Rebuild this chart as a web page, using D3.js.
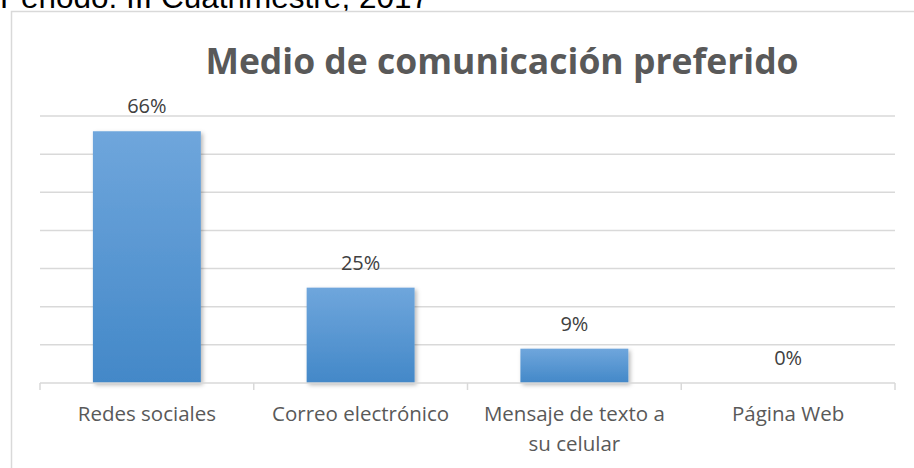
<!DOCTYPE html>
<html>
<head>
<meta charset="utf-8">
<script src="https://cdn.jsdelivr.net/npm/d3@7"></script>
<style>
  html, body { margin: 0; padding: 0; background: #fff; }
  svg { display: block; }
</style>
</head>
<body>
<svg id="chart" width="914" height="468"></svg>
<script>
// Data
const categories = ["Redes sociales", "Correo electrónico", "Mensaje de texto a su celular", "Página Web"];
const categoryLines = [["Redes sociales"], ["Correo electrónico"], ["Mensaje de texto a", "su celular"], ["Página Web"]];
const values = [0.66, 0.25, 0.09, 0.00];
const valueLabels = ["66%", "25%", "9%", "0%"];
const gridTicks = [0.1, 0.2, 0.3, 0.4, 0.5, 0.6, 0.7];
const chartTitle = "Medio de comunicación preferido";
const headerText = "Periodo: III Cuatrimestre, 2017";

const svg = d3.select("#chart");
const font = "'Open Sans', 'Noto Sans', sans-serif";

// Heading above the chart frame
svg.append("text")
  .attr("x", 0).attr("y", 8)
  .attr("font-family", "'Liberation Sans', Arial, sans-serif")
  .attr("font-size", 31.5)
  .attr("fill", "#000")
  .text(headerText);

// Chart frame
svg.append("rect")
  .attr("x", 11.5).attr("y", 11.5)
  .attr("width", 940).attr("height", 500)
  .attr("fill", "#fff")
  .attr("stroke", "#d9d9d9").attr("stroke-width", 1.5);

// Gradient and shadow for bars
const defs = svg.append("defs");
const grad = defs.append("linearGradient")
  .attr("id", "barGrad").attr("x1", 0).attr("y1", 0).attr("x2", 0).attr("y2", 1);
grad.append("stop").attr("offset", "0%").attr("stop-color", "#6fa6dc");
grad.append("stop").attr("offset", "100%").attr("stop-color", "#4388c8");
const shadow = defs.append("filter").attr("id", "barShadow")
  .attr("x", "-20%").attr("y", "-20%").attr("width", "150%").attr("height", "150%");
shadow.append("feDropShadow")
  .attr("dx", 2).attr("dy", 2).attr("stdDeviation", 2)
  .attr("flood-color", "#000").attr("flood-opacity", 0.28);

// Scales
const x = d3.scaleBand()
  .domain(categories)
  .range([40, 895])
  .paddingInner(0.495)
  .paddingOuter(0.2475);
const y = d3.scaleLinear().domain([0, 0.7]).range([383, 116]);

// Title
svg.append("text")
  .attr("x", 502).attr("y", 74)
  .attr("text-anchor", "middle")
  .attr("font-family", font)
  .attr("font-weight", "bold")
  .attr("font-size", 35.5)
  .attr("fill", "#595959")
  .text(chartTitle);

// Horizontal gridlines
svg.append("g")
  .selectAll("line")
  .data(gridTicks)
  .join("line")
  .attr("x1", 40).attr("x2", 895)
  .attr("y1", d => y(d)).attr("y2", d => y(d))
  .attr("stroke", "#d9d9d9").attr("stroke-width", 1.5);

// Bars
svg.append("g")
  .selectAll("rect")
  .data(values)
  .join("rect")
  .attr("x", (d, i) => x(categories[i]))
  .attr("width", x.bandwidth())
  .attr("y", d => y(d))
  .attr("height", d => y(0) - y(d))
  .attr("fill", "url(#barGrad)")
  .attr("filter", "url(#barShadow)");

// Category axis line and tick marks at band boundaries
const step = x.step();
const boundaries = d3.range(categories.length + 1).map(i => 40 + i * step);
svg.append("line")
  .attr("x1", 40).attr("x2", 895)
  .attr("y1", y(0)).attr("y2", y(0))
  .attr("stroke", "#d9d9d9").attr("stroke-width", 1.5);
svg.append("g")
  .selectAll("line")
  .data(boundaries)
  .join("line")
  .attr("x1", d => d).attr("x2", d => d)
  .attr("y1", y(0)).attr("y2", y(0) + 7)
  .attr("stroke", "#d9d9d9").attr("stroke-width", 1.5);

// Value labels
svg.append("g")
  .selectAll("text")
  .data(values)
  .join("text")
  .attr("x", (d, i) => x(categories[i]) + x.bandwidth() / 2)
  .attr("y", d => y(d) - 18)
  .attr("text-anchor", "middle")
  .attr("font-family", font)
  .attr("font-size", 20)
  .attr("fill", "#404040")
  .text((d, i) => valueLabels[i]);

// Category labels
const catG = svg.append("g");
categories.forEach((c, i) => {
  const t = catG.append("text")
    .attr("x", x(c) + x.bandwidth() / 2)
    .attr("y", 421)
    .attr("text-anchor", "middle")
    .attr("font-family", font)
    .attr("font-size", 20.5)
    .attr("fill", "#595959");
  categoryLines[i].forEach((line, j) => {
    t.append("tspan")
      .attr("x", x(c) + x.bandwidth() / 2)
      .attr("dy", j === 0 ? 0 : 30)
      .text(line);
  });
});
</script>
</body>
</html>
